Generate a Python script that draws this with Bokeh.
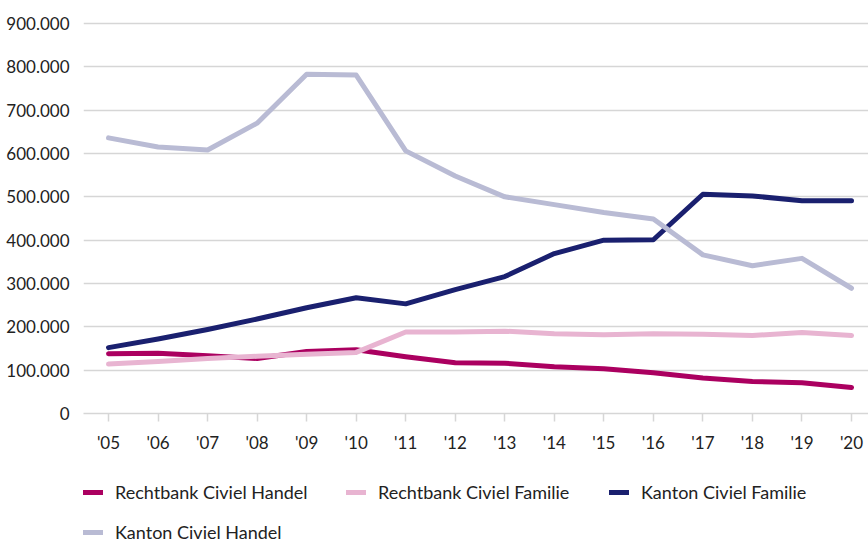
from bokeh.plotting import figure
from bokeh.models import FixedTicker, Legend, LegendItem
from bokeh.layouts import column
from bokeh.embed import file_html
from bokeh.resources import INLINE

years = ["'05", "'06", "'07", "'08", "'09", "'10", "'11", "'12", "'13", "'14", "'15", "'16", "'17", "'18", "'19", "'20"]
rechtbank_handel = [138000, 139000, 133000, 127000, 143000, 147000, 131000, 117000, 116000, 108000, 103000, 94000, 82000, 74000, 71000, 60000]
rechtbank_familie = [114000, 120000, 127000, 132000, 137000, 141000, 188000, 188000, 190000, 184000, 182000, 184000, 183000, 180000, 187000, 180000]
kanton_familie = [152000, 172000, 194000, 218000, 244000, 267000, 253000, 286000, 316000, 369000, 400000, 401000, 506000, 502000, 491000, 491000]
kanton_handel = [636000, 615000, 608000, 670000, 783000, 781000, 606000, 548000, 500000, 482000, 464000, 449000, 366000, 341000, 358000, 289000]
y_ticks = [0, 100000, 200000, 300000, 400000, 500000, 600000, 700000, 800000, 900000]
y_labels = ["0", "100.000", "200.000", "300.000", "400.000", "500.000", "600.000", "700.000", "800.000", "900.000"]

series = [
    ("Rechtbank Civiel Handel", rechtbank_handel, "#ab0060"),
    ("Rechtbank Civiel Familie", rechtbank_familie, "#e8b4d1"),
    ("Kanton Civiel Familie", kanton_familie, "#1a206f"),
    ("Kanton Civiel Handel", kanton_handel, "#b9bbd4"),
]

FONT = "Lato"
TXT = "#222222"

xs = list(range(len(years)))

p = figure(width=868, height=460, output_backend="svg", toolbar_location=None,
           x_range=(-0.505, 15.343), y_range=(0, 906900),
           min_border_left=83, min_border_right=0, min_border_top=20, min_border_bottom=47)
p.outline_line_color = None
p.background_fill_color = "white"
p.border_fill_color = "white"

for name, vals, col in series:
    p.line(xs, vals, line_color=col, line_width=5, line_cap="round", line_join="round")

# axes
p.xaxis.ticker = FixedTicker(ticks=xs)
p.xaxis.major_label_overrides = {i: y for i, y in enumerate(years)}
p.xaxis.axis_line_color = "#d6d6d6"
p.xaxis.axis_line_width = 1.5
p.xaxis.major_tick_line_color = "#d6d6d6"
p.xaxis.major_tick_line_width = 1.5
p.xaxis.major_tick_out = 8
p.xaxis.major_tick_in = 0
p.xaxis.minor_tick_line_color = None
p.xaxis.major_label_standoff = 10
p.xaxis.major_label_text_font = FONT
p.xaxis.major_label_text_font_size = "17px"
p.xaxis.major_label_text_color = TXT

p.yaxis.ticker = FixedTicker(ticks=y_ticks)
p.yaxis.major_label_overrides = {t: l for t, l in zip(y_ticks, y_labels)}
p.yaxis.axis_line_color = None
p.yaxis.major_tick_line_color = None
p.yaxis.minor_tick_line_color = None
p.yaxis.major_label_standoff = 8
p.yaxis.major_label_text_font = FONT
p.yaxis.major_label_text_font_size = "17px"
p.yaxis.major_label_text_color = TXT

p.xgrid.grid_line_color = None
p.ygrid.ticker = FixedTicker(ticks=y_ticks)
p.ygrid.grid_line_color = "#d6d6d6"
p.ygrid.grid_line_width = 1.5

# legend in its own strip below the chart (series drawn out of view, only for legend glyphs)
lg = figure(width=868, height=83, output_backend="svg", toolbar_location=None,
            x_range=(0, 1), y_range=(-2, -1), x_axis_type=None, y_axis_type=None,
            min_border=0)
lg.outline_line_color = None
lg.grid.grid_line_color = None
lg.background_fill_color = "white"
lg.border_fill_color = "white"

items = []
for name, vals, col in series:
    r = lg.line(xs, vals, line_color=col, line_width=5, line_cap="round")
    items.append(LegendItem(label=name, renderers=[r]))

legend = Legend(items=items, location=(0, 0), orientation="horizontal", ncols=3,
                glyph_width=20, glyph_height=18, label_height=18, label_standoff=12,
                label_width=213, spacing=18, padding=0, margin=0,
                label_text_font=FONT, label_text_font_size="18px", label_text_color=TXT,
                border_line_color=None, background_fill_alpha=0)
lg.add_layout(legend, "center")

open("out.html", "w").write(file_html(column(p, lg), INLINE))
